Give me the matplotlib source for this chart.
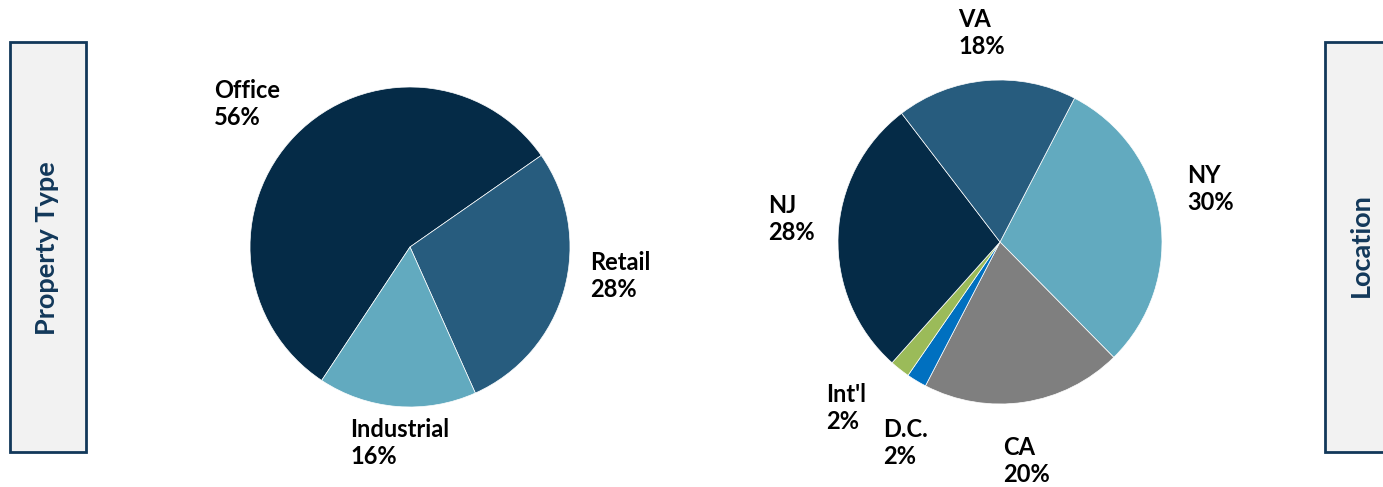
import matplotlib.pyplot as plt
from matplotlib.patches import Rectangle

# Property type breakdown
type_labels = ["Office", "Retail", "Industrial"]
type_values = [56, 28, 16]
type_colors = ["#052B47", "#275C7E", "#62AABF"]

# Location breakdown
loc_labels = ["NY", "CA", "D.C.", "Int'l", "NJ", "VA"]
loc_values = [30, 20, 2, 2, 28, 18]
loc_colors = ["#62AABF", "#7F7F7F", "#0070C0", "#9BBB59", "#052B47", "#275C7E"]

W, H = 1383, 487
fig = plt.figure(figsize=(W / 100, H / 100), dpi=100)
plt.rcParams["font.family"] = ["Lato", "DejaVu Sans"]
navy = "#12385A"


def pie_axes(cx, cy, r):
    ax = fig.add_axes([(cx - r) / W, (H - cy - r) / H, 2 * r / W, 2 * r / H])
    ax.set_xlim(-1, 1)
    ax.set_ylim(-1, 1)
    ax.axis("off")
    return ax


def add_labels(ax, labels, values, spots, cx, cy, r):
    for lab, val, (px, py) in zip(labels, values, spots):
        ax.text((px - cx) / r, (cy - py) / r, f"{lab}\n{val}%",
                ha="left", va="top", fontsize=17, fontweight="bold",
                linespacing=1.2, clip_on=False)


# left pie
ax1 = pie_axes(410, 247, 160)
ax1.pie(type_values, colors=type_colors, startangle=236.5, counterclock=False,
        radius=1, wedgeprops=dict(linewidth=0.5, edgecolor="white"))
ax1.set_xlim(-1, 1)
ax1.set_ylim(-1, 1)
add_labels(ax1, type_labels, type_values,
           [(214, 79), (590, 251), (350, 418)], 410, 247, 160)

# right pie
ax2 = pie_axes(1000, 242, 162)
ax2.pie(loc_values, colors=loc_colors, startangle=62.6, counterclock=False,
        radius=1, wedgeprops=dict(linewidth=0.5, edgecolor="white"))
ax2.set_xlim(-1, 1)
ax2.set_ylim(-1, 1)
add_labels(ax2, loc_labels, loc_values,
           [(1187, 164), (1003, 436), (883, 418), (826, 383), (768, 194), (958, 8)],
           1000, 242, 162)

# side boxes
fig.patches.append(Rectangle((10 / W, 35 / H), 76 / W, 410 / H, transform=fig.transFigure,
                             facecolor="#F2F2F2", edgecolor=navy, linewidth=2))
fig.patches.append(Rectangle((1325 / W, 35 / H), 80 / W, 410 / H, transform=fig.transFigure,
                             facecolor="#F2F2F2", edgecolor=navy, linewidth=2, clip_on=False))
fig.text(47 / W, 1 - 248 / H, "Property Type", rotation=90, ha="center", va="center",
         fontsize=19.5, fontweight="bold", color=navy)
fig.text(1361 / W, 1 - 245 / H, "Location", rotation=90, ha="center", va="center",
         fontsize=19.5, fontweight="bold", color=navy)

fig.savefig("out.png", dpi=100)
